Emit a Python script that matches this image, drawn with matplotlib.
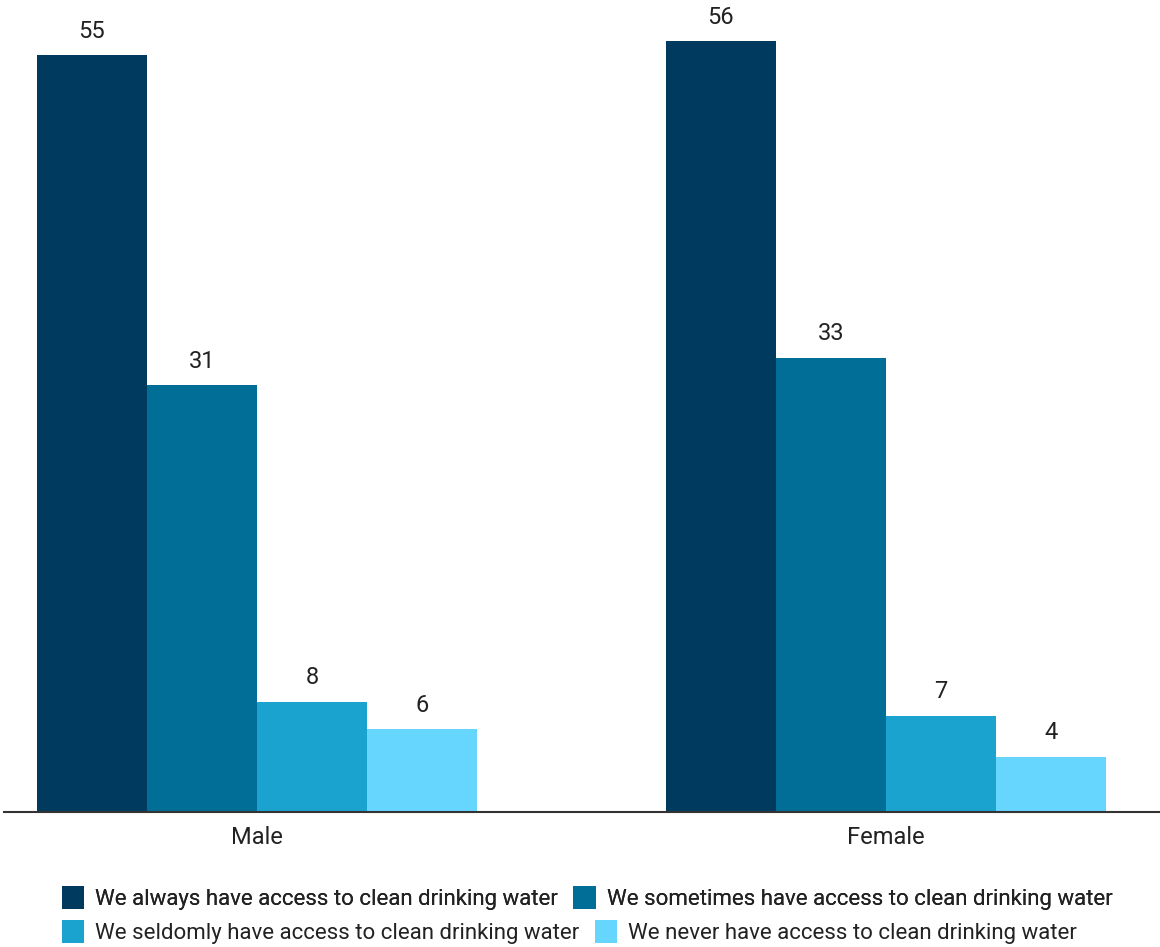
import numpy as np
import matplotlib
matplotlib.use("Agg")
import matplotlib.pyplot as plt
from matplotlib.patches import Patch

plt.rcParams['font.family'] = ['Roboto', 'DejaVu Sans']

groups = ["Male", "Female"]
series = [
    "We always have access to clean drinking water",
    "We sometimes have access to clean drinking water",
    "We seldomly have access to clean drinking water",
    "We never have access to clean drinking water",
]
values = [
    [55, 56],
    [31, 33],
    [8, 7],
    [6, 4],
]
colors = ["#003B5F", "#006E96", "#1AA3CE", "#66D6FF"]
text_col = "#222222"

W, H = 1160, 947
fig = plt.figure(figsize=(W / 100, H / 100), dpi=100)
# axes box in pixels: left 4, right 1160, baseline at y=812, top at y=0
ax = fig.add_axes([4 / W, (H - 812) / H, (W - 4) / W, 812 / H])

x = np.arange(len(groups))
bw = 0.175
for i, (name, vals) in enumerate(zip(series, values)):
    pos = x + (i - 1.5) * bw
    bars = ax.bar(pos, vals, width=bw, color=colors[i], label=name, zorder=2)
    for b, v in zip(bars, vals):
        ax.annotate(str(v), (b.get_x() + b.get_width() / 2, v),
                    xytext=(0, 9), textcoords="offset points",
                    ha="center", va="bottom", fontsize=17, color=text_col)

ax.set_xlim(-0.402, 1.4356)
ax.set_ylim(0, 812 / 13.76)
ax.set_xticks(x)
ax.set_xticklabels(groups, fontsize=17, color=text_col)
ax.tick_params(axis="x", length=0, pad=10)
ax.set_yticks([])
for s in ["top", "right", "left"]:
    ax.spines[s].set_visible(False)
ax.spines["bottom"].set_color("#333333")
ax.spines["bottom"].set_linewidth(1.5)

handles = [Patch(facecolor=c, edgecolor="none") for c in colors]
leg_kw = dict(frameon=False, fontsize=16, handlelength=1.0, handleheight=1.17,
              handletextpad=0.5, columnspacing=0.68, ncol=2,
              labelcolor=text_col, borderaxespad=0, borderpad=0)
leg1 = fig.legend(handles[:2], series[:2], loc="center left",
                  bbox_to_anchor=(62 / W, 1 - 898 / H), **leg_kw)
fig.add_artist(leg1)
leg2 = fig.legend(handles[2:], series[2:], loc="center left",
                  bbox_to_anchor=(62 / W, 1 - 932 / H), **leg_kw)

fig.savefig("out.png", dpi=100)
